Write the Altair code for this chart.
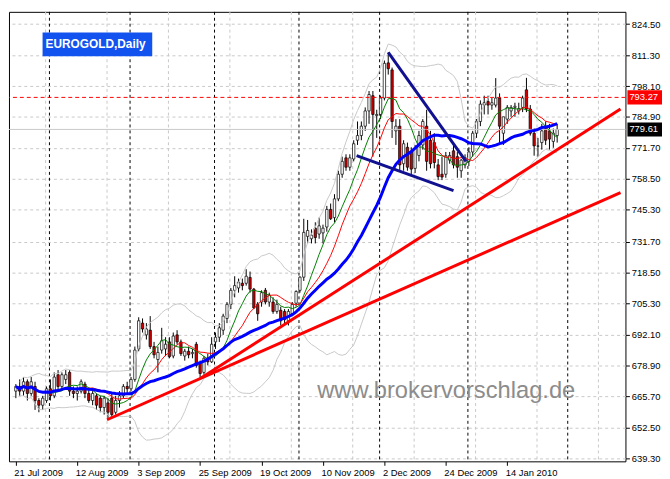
import altair as alt
import pandas as pd

# Daily EUROGOLD bars, bar 0 = 21 Jul 2009, last bar = end of Jan 2010
opens = [668, 670, 668, 672, 667, 670, 664, 662, 664, 669, 666, 675, 670, 673, 676, 668,
         667, 668, 671, 667, 664, 666, 665, 661, 663, 665, 659, 664, 666, 670, 669, 673,
         686, 697, 692, 694, 687, 681.5, 685.5, 686, 689, 683, 692, 689, 683, 685, 684, 688,
         680, 676, 682, 680.5, 689, 691, 694, 699, 705, 711, 712, 714, 714, 716.5, 711.5, 705,
         706, 711, 706, 706, 702, 702.5, 702, 698, 701, 705.5, 711, 716.6, 734, 733, 737.5, 735,
         735.5, 738, 745.5, 742, 750, 760.5, 767.5, 763.5, 767, 775, 777, 781, 787.5, 794, 785.5, 786,
         793, 808, 805, 779, 781, 765, 772, 770, 763, 768.5, 773, 781, 775, 774, 764.5, 760.5,
         760.5, 766.5, 770.5, 768, 762, 764.5, 766, 770, 778, 783, 790, 791.5, 790, 790, 793, 778,
         784, 787.5, 789, 787.5, 789, 796.5, 788.3, 778, 772.5, 774, 780, 779, 774.5, 777]
highs = [671, 673, 674, 673, 674, 672, 665, 666, 670, 673, 676, 677, 676, 677, 677, 670,
         670, 673, 672, 669, 668, 667, 666, 666, 665, 667, 666, 668, 671, 672, 674, 687,
         699.5, 699, 697, 700, 689, 687, 695, 691, 691, 693, 694, 690, 686, 687, 686, 689,
         681, 683, 684, 691, 693, 697, 701, 706, 712, 717, 716, 716, 720, 719, 712, 706,
         711, 712, 710, 708, 707, 704, 703, 703, 706, 711, 717, 741.5, 741, 737, 740, 742,
         739, 747, 748, 752, 762, 768, 769, 769, 775, 783, 783, 789, 796, 796, 788, 794,
         809, 812.5, 806, 784, 784, 775, 774, 772, 773, 779, 784, 788, 779, 778, 767, 768,
         770, 770, 773, 770, 767, 769, 772, 779, 784, 792, 794, 794, 793, 801.5, 795, 785,
         790, 790, 791, 791, 794, 801.6, 790, 780, 776, 782, 783, 782, 780, 782]
lows = [665, 666, 666, 664, 666, 660, 659, 660, 663, 664, 665, 668, 669, 671, 666, 665,
        664, 667, 665, 663, 662, 660, 659, 658, 655.8, 657, 658, 661, 665, 667, 668, 672,
        685, 693, 690, 686, 682, 676, 684, 683, 682, 682, 688, 683, 681, 682, 682, 678,
        673.5, 675, 679, 680, 686, 689, 692, 697, 703, 708, 710, 711, 713, 710, 703, 698,
        704, 705, 704, 701, 701, 696, 697, 696, 700, 704, 710, 715, 731, 731, 731, 733,
        731, 736, 741, 740, 749, 759, 762, 762, 766, 773, 775, 779, 782, 768, 776, 784,
        792, 803, 776, 773, 762, 762, 762, 760, 761, 766, 771, 762, 763, 763, 758, 758,
        759, 765, 763, 759, 759, 763, 764, 768, 776, 781, 786, 786, 788, 789, 773, 773,
        782, 785, 785, 786, 787, 787, 777, 768.4, 768, 771, 773, 771, 771.8, 774]
closes = [670, 668, 672, 667, 672, 664, 662, 665, 669, 666, 674, 670, 675, 675, 668, 667,
          668, 672, 667, 664, 667, 662, 661, 665, 659, 658, 664, 666, 670, 669, 673, 685.5,
          698, 694.5, 694.5, 687, 683.5, 684.5, 689.5, 688, 682.7, 691.5, 689, 684, 685, 683.5, 684.5, 679,
          675.5, 682, 680.5, 688, 691, 695, 700, 705, 711, 713, 714.5, 713, 717, 711.5, 703.5, 701,
          710, 706, 709, 702, 705, 698, 698.5, 702, 705, 710.5, 716.6, 735.7, 736.5, 734.5, 733.5, 738.5,
          737.5, 745.5, 741.5, 750, 760.5, 766, 763.5, 767.5, 773.5, 777, 781, 787.5, 794.5, 786, 786, 793,
          807.8, 805.5, 783, 781, 764.5, 773.5, 763.5, 762.7, 771.5, 777, 783, 766, 765, 765.5, 759.5, 759.3,
          768.4, 768.5, 764.5, 763.5, 766.5, 767.6, 770, 778, 783, 790.4, 791, 790, 791, 793, 781, 785,
          789, 789, 789.5, 788.5, 793, 788.3, 778, 772.6, 772.5, 779, 775, 775.5, 778, 779.61]

date_labels = ['21 Jul 2009', '12 Aug 2009', '3 Sep 2009', '25 Sep 2009', '19 Oct 2009',
               '10 Nov 2009', '2 Dec 2009', '24 Dec 2009', '14 Jan 2010']
date_ticks = [0, 16, 32, 48, 64, 80, 96, 112, 128]
price_ticks = [824.50, 811.30, 798.10, 784.90, 771.70, 758.50, 745.30, 731.70,
               718.50, 705.30, 692.10, 678.90, 665.70, 652.50, 639.30]
grid_bars = [7.75, 23.75, 39.75, 55.75, 71.75, 87.75, 103.75, 119.75, 135.75, 151.75]
month_breaks = [8.75, 29.75, 51.75, 73.75, 94.75, 117.75, 143.75]

# hand drawn trend lines (bar index, price)
trend_names = ['red1', 'red1', 'red2', 'red2', 'navy1', 'navy1', 'navy2', 'navy2']
trend_bars = [23.75, 157.5, 48.25, 157.5, 97, 117.25, 88.75, 114]
trend_prices = [655.8, 752.7, 673.6, 788.3, 812.5, 766.0, 768.4, 753.5]

level_price = 793.27
bid_price = 779.61

FONT = 'Liberation Sans'

df = pd.DataFrame({'bar': range(len(closes)), 'open': opens, 'high': highs,
                   'low': lows, 'close': closes})
trends = pd.DataFrame({'name': trend_names, 'bar': trend_bars, 'price': trend_prices})

x_scale = alt.Scale(domain=[-0.5, 157.5], nice=False, zero=False)
y_scale = alt.Scale(domain=[638.06, 829.76], nice=False, zero=False)

label_expr = '[' + ','.join(f"'{d}'" for d in date_labels) + '][round(datum.value / 16)]'

# same axis objects in every layer so that they merge
x_axis = alt.Axis(values=date_ticks, labelExpr=label_expr, grid=False, domain=False,
                  tickColor='black', tickSize=4, labelAlign='left', labelPadding=2,
                  labelOffset=-2, labelOverlap=False, labelFlush=False)
y_axis = alt.Axis(orient='right', values=price_ticks, format='.2f', grid=True,
                  gridColor='#c8c8c8', gridDash=[3, 3], domain=False,
                  tickColor='black', tickSize=4, labelPadding=2, labelOverlap=False)


def X(field):
    return alt.X(field, type='quantitative', scale=x_scale, axis=x_axis, title=None)


def Y(field):
    return alt.Y(field, type='quantitative', scale=y_scale, axis=y_axis, title=None)


wicks = alt.Chart(df).mark_rule(color='black', strokeWidth=1).encode(
    x=X('bar'), y=Y('low'), y2='high:Q')

bodies = alt.Chart(df).mark_bar(size=2.4, stroke='black', strokeWidth=0.7).encode(
    x=X('bar'), y=Y('open'), y2='close:Q',
    fill=alt.condition('datum.close >= datum.open', alt.value('white'), alt.value('#cc0000'))
)

vgrid = alt.Chart(pd.DataFrame({'bar': grid_bars})).mark_rule(
    color='#c8c8c8', strokeDash=[3, 3], strokeWidth=1).encode(x=X('bar'))
separators = alt.Chart(pd.DataFrame({'bar': month_breaks})).mark_rule(
    color='black', strokeDash=[3, 3], strokeWidth=1).encode(x=X('bar'))

bands = alt.Chart(df).transform_window(
    bb_mid='mean(close)', bb_sd='stdev(close)', frame=[-19, 0], sort=[alt.SortField('bar')]
).transform_calculate(
    bb_up='datum.bb_mid + 2 * datum.bb_sd', bb_lo='datum.bb_mid - 2 * datum.bb_sd'
)
band_up = bands.mark_line(color='#c8c8c8', strokeWidth=1).encode(x=X('bar'), y=Y('bb_up'))
band_lo = bands.mark_line(color='#c8c8c8', strokeWidth=1).encode(x=X('bar'), y=Y('bb_lo'))


def sma(period, color, width):
    return alt.Chart(df).transform_window(
        ma='mean(close)', frame=[-(period - 1), 0], sort=[alt.SortField('bar')]
    ).mark_line(color=color, strokeWidth=width).encode(x=X('bar'), y=Y('ma'))


ma_fast = sma(8, '#008000', 1)
ma_mid = sma(13, '#ff0000', 1)
ma_slow = sma(26, '#0000ff', 3)

bid_line = alt.Chart(pd.DataFrame({'p': [bid_price]})).mark_rule(
    color='#c8c8c8', strokeWidth=1).encode(y=Y('p'))
level_line = alt.Chart(pd.DataFrame({'p': [level_price]})).mark_rule(
    color='#ff0000', strokeDash=[4, 3], strokeWidth=1).encode(y=Y('p'))

red_trends = alt.Chart(trends).transform_filter(
    "indexof(datum.name, 'red') == 0").mark_line(color='#ff0000', strokeWidth=3, clip=True).encode(
    x=X('bar'), y=Y('price'), detail='name:N')
navy_trends = alt.Chart(trends).transform_filter(
    "indexof(datum.name, 'navy') == 0").mark_line(color='#101090', strokeWidth=3, clip=True).encode(
    x=X('bar'), y=Y('price'), detail='name:N')

tags = pd.DataFrame({'price': [level_price, bid_price], 'fill': ['#ff0000', '#000000']})
tag_box = alt.Chart(tags).transform_calculate(
    top='datum.price + 3', bottom='datum.price - 3'
).mark_rect().encode(
    x=alt.value(626), x2=alt.value(661), y=Y('top'), y2='bottom:Q',
    color=alt.Color('fill:N', scale=None)
)
tag_text = alt.Chart(tags).mark_text(
    align='left', baseline='middle', color='white', font=FONT, fontSize=9.5
).encode(x=alt.value(628), y=Y('price'), text=alt.Text('price:Q', format='.2f'))

title_df = pd.DataFrame({'t': ['EUROGOLD,Daily']})
title_box = alt.Chart(title_df).mark_rect(color='#1252ee').encode(
    x=alt.value(34), x2=alt.value(145), y=alt.value(21), y2=alt.value(45))
title_text = alt.Chart(title_df).mark_text(
    align='left', baseline='middle', color='white', font=FONT, fontSize=12, fontWeight='bold'
).encode(x=alt.value(37), y=alt.value(33), text='t:N')

watermark = alt.Chart(pd.DataFrame({'t': ['www.brokervorschlag.de']})).mark_text(
    align='left', baseline='alphabetic', color='#8c8c8c', font=FONT, fontSize=24
).encode(x=alt.value(312), y=alt.value(391), text='t:N')

chart = alt.layer(
    vgrid, separators, wicks, bodies, band_up, band_lo, bid_line,
    ma_fast, ma_mid, ma_slow, level_line, red_trends, navy_trends,
    tag_box, tag_text, title_box, title_text, watermark
).properties(
    width=624, height=455, padding=0, background='white'
).configure_view(
    stroke='black', strokeWidth=1
).configure_axis(
    labelFont=FONT, labelFontSize=9.5, labelColor='black'
)

chart.save('out.html', embed_options={'renderer': 'svg', 'actions': False})
